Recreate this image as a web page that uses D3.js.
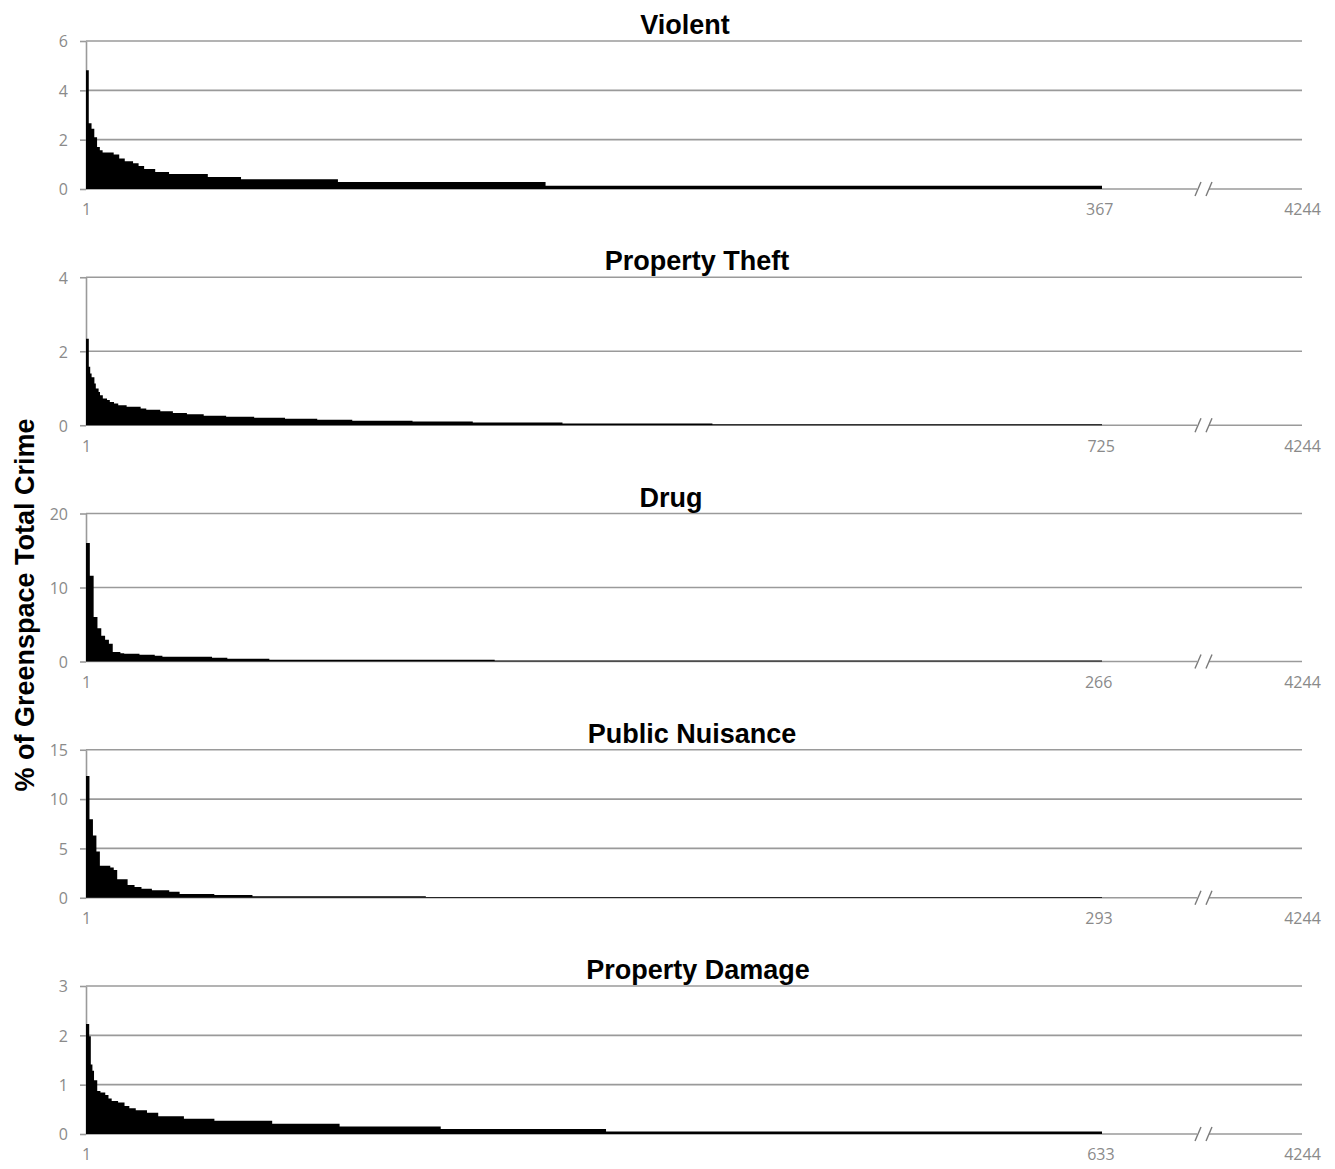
<!DOCTYPE html>
<html>
<head>
<meta charset="utf-8">
<script src="https://cdn.jsdelivr.net/npm/d3@7"></script>
<style>
  html, body { margin: 0; padding: 0; background: #fff; }
  svg { display: block; }
  .tick-label { font-family: "Open Sans", "Liberation Sans", Arial, sans-serif; font-size: 16px; fill: #8a8a8a; }
  .panel-title { font-family: "Liberation Sans", Arial, sans-serif; font-weight: bold; font-size: 27px; fill: #000; }
  .y-title { font-family: "Liberation Sans", Arial, sans-serif; font-weight: bold; font-size: 27px; fill: #000; }
</style>
</head>
<body>
<svg id="chart" width="1335" height="1169"></svg>
<script>
// Crime categories, one panel each
const categories = ["Violent", "Property Theft", "Drug", "Public Nuisance", "Property Damage"];
// Number of greenspaces with at least one crime of each type
const greenspacesWithCrime = [367, 725, 266, 293, 633];
// Total number of greenspaces
const totalGreenspaces = 4244;
// Y-axis maxima and tick values (% of greenspace total crime)
const yMaxima = [6, 4, 20, 15, 3];
const yTickValues = [[0, 2, 4, 6], [0, 2, 4], [0, 10, 20], [0, 5, 10, 15], [0, 1, 2, 3]];

// Ranked shares, run-length encoded: share (%) and number of consecutive ranked greenspaces at that share
const violentShare = [4.81, 2.67, 2.44, 2.1, 1.7, 1.57, 1.48, 1.4, 1.24, 1.13, 1.04, 0.93, 0.81, 0.69, 0.61, 0.49, 0.40, 0.28, 0.13];
const violentRuns  = [1, 1, 1, 1, 1, 1, 4, 2, 2, 3, 2, 2, 4, 5, 14, 12, 35, 75, 201];

const theftShare = [2.34, 1.58, 1.40, 1.30, 1.13, 0.99, 0.90, 0.81, 0.72, 0.68, 0.63, 0.59, 0.54, 0.50, 0.45, 0.42, 0.38, 0.33, 0.30, 0.26, 0.23, 0.20, 0.175, 0.15, 0.125, 0.10, 0.075, 0.05, 0.025];
const theftRuns  = [2, 1, 1, 2, 1, 2, 1, 2, 3, 2, 3, 3, 6, 10, 4, 10, 9, 10, 12, 16, 20, 22, 23, 25, 43, 43, 64, 107, 278];

const drugShare = [16.0, 11.6, 6.0, 4.5, 3.47, 2.93, 2.39, 1.3, 1.13, 1.04, 0.9, 0.77, 0.63, 0.5, 0.37, 0.24, 0.12];
const drugRuns  = [1, 1, 1, 1, 1, 1, 1, 2, 1, 4, 4, 2, 13, 4, 11, 59, 159];

const nuisanceShare = [12.35, 7.95, 6.3, 4.7, 3.25, 3.07, 2.8, 1.88, 1.3, 1.09, 0.92, 0.75, 0.61, 0.38, 0.27, 0.14, 0.07];
const nuisanceRuns  = [1, 1, 1, 1, 3, 1, 1, 3, 2, 2, 3, 5, 3, 10, 11, 50, 195];

const damageShare = [2.23, 1.98, 1.41, 1.28, 1.09, 0.87, 0.84, 0.79, 0.72, 0.67, 0.64, 0.57, 0.52, 0.48, 0.43, 0.36, 0.31, 0.27, 0.21, 0.15, 0.10, 0.05];
const damageRuns  = [2, 1, 1, 1, 2, 2, 3, 2, 2, 4, 4, 3, 4, 7, 7, 16, 19, 36, 42, 63, 103, 309];

const shareSeries = [violentShare, theftShare, drugShare, nuisanceShare, damageShare];
const runSeries = [violentRuns, theftRuns, drugRuns, nuisanceRuns, damageRuns];

// Layout
const plotLeft = 86, dataRight = 1102, plotRight = 1302;
const panelTop0 = 41, panelStep = 236.25, panelHeight = 148;
const titleCenters = [685, 697, 671, 692, 698];
const gridColor = "#9a9a9a";

const svg = d3.select("#chart");

// Expand runs into one record per ranked greenspace
function expand(shares, runs) {
  const out = [];
  let rank = 1;
  shares.forEach((v, i) => {
    for (let k = 0; k < runs[i]; k++) out.push({ rank: rank++, value: v });
  });
  return out;
}

categories.forEach((name, p) => {
  const n = greenspacesWithCrime[p];
  const top = panelTop0 + p * panelStep;
  const bottom = top + panelHeight;
  const g = svg.append("g");

  const x = d3.scaleLinear()
    .domain([1, n + 1, totalGreenspaces])
    .range([plotLeft, dataRight, plotRight]);
  const y = d3.scaleLinear().domain([0, yMaxima[p]]).range([bottom, top]);

  // Horizontal gridlines (excluding zero, drawn as the axis)
  g.selectAll("line.grid")
    .data(yTickValues[p].filter(v => v > 0))
    .join("line")
    .attr("x1", plotLeft).attr("x2", plotRight)
    .attr("y1", d => y(d)).attr("y2", d => y(d))
    .attr("stroke", gridColor).attr("stroke-width", 1.6);

  // Y axis with outward ticks
  const yAxis = g.append("g")
    .attr("transform", `translate(${plotLeft},0)`)
    .call(d3.axisLeft(y).tickValues(yTickValues[p]).tickFormat(d3.format("d"))
      .tickSize(6).tickPadding(12).tickSizeOuter(0));
  yAxis.select(".domain").attr("stroke", gridColor).attr("stroke-width", 1.6);
  yAxis.selectAll(".tick line").attr("stroke", gridColor).attr("stroke-width", 1.6);
  yAxis.selectAll(".tick text").attr("class", "tick-label").attr("font-size", null).attr("font-family", null).attr("fill", null)
    .attr("dy", "0.36em");

  // Zero baseline with a break before the last greenspace rank
  const breakX = 1203;
  g.append("line")
    .attr("x1", plotLeft).attr("x2", breakX - 6)
    .attr("y1", bottom).attr("y2", bottom)
    .attr("stroke", gridColor).attr("stroke-width", 1.6);
  g.append("line")
    .attr("x1", breakX + 6).attr("x2", plotRight)
    .attr("y1", bottom).attr("y2", bottom)
    .attr("stroke", gridColor).attr("stroke-width", 1.6);
  [-5, 6].forEach(dx => {
    g.append("line")
      .attr("x1", breakX + dx - 3).attr("y1", bottom + 7)
      .attr("x2", breakX + dx + 3).attr("y2", bottom - 7)
      .attr("stroke", "#7a7a7a").attr("stroke-width", 1.4);
  });

  // Ranked shares as a stepped column profile
  const data = expand(shareSeries[p], runSeries[p]);
  data.push({ rank: n + 1, value: data[data.length - 1].value });
  const area = d3.area()
    .curve(d3.curveStepAfter)
    .x(d => x(d.rank))
    .y0(y(0))
    .y1(d => y(d.value));
  g.append("path").datum(data).attr("d", area).attr("fill", "#000");

  // Rank labels along the x axis
  const xAxis = g.append("g")
    .attr("transform", `translate(0,${bottom})`)
    .call(d3.axisBottom(x).tickValues([1, n, totalGreenspaces]).tickSize(0).tickPadding(15).tickFormat(d3.format("d")));
  xAxis.select(".domain").remove();
  xAxis.selectAll(".tick text").attr("class", "tick-label").attr("font-size", null).attr("font-family", null).attr("fill", null);

  // Panel title
  g.append("text")
    .attr("class", "panel-title")
    .attr("x", titleCenters[p])
    .attr("y", top - 7)
    .attr("text-anchor", "middle")
    .text(name);
});

// Shared y-axis title
svg.append("text")
  .attr("class", "y-title")
  .attr("transform", "translate(34,605) rotate(-90)")
  .attr("text-anchor", "middle")
  .text("% of Greenspace Total Crime");
</script>
</body>
</html>
